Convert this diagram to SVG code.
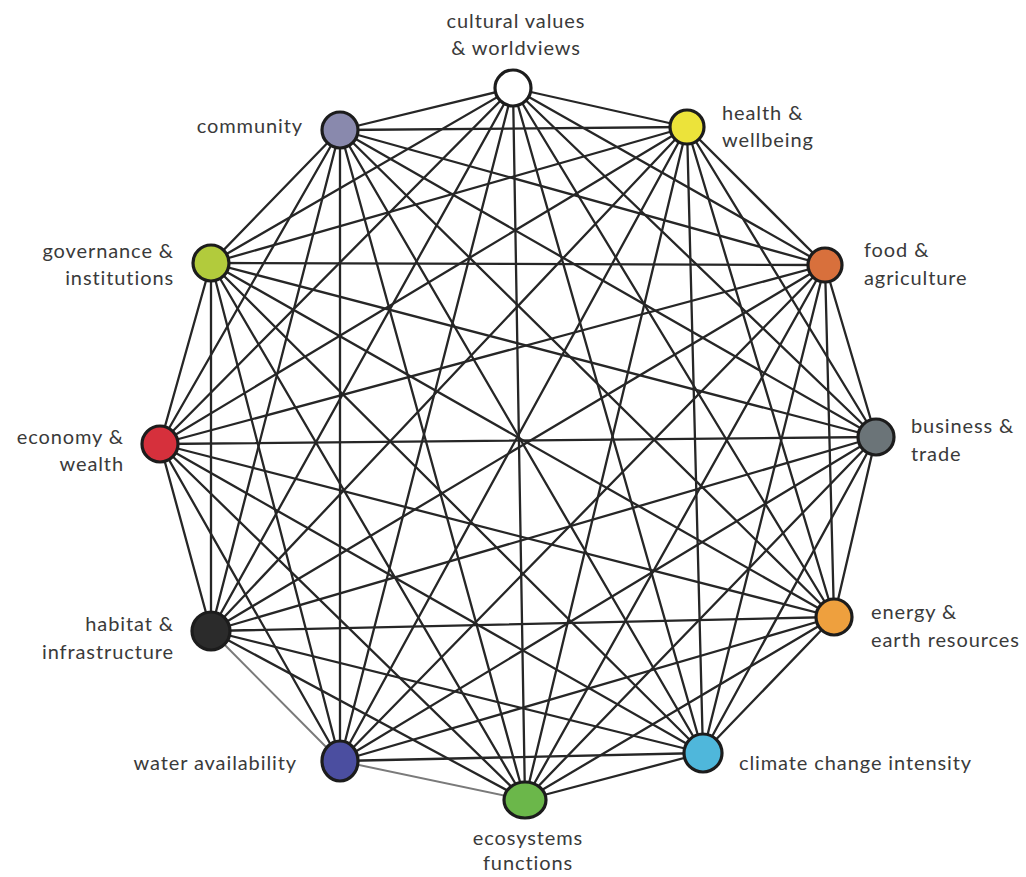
<svg xmlns="http://www.w3.org/2000/svg" width="1026" height="877" viewBox="0 0 1026 877">
  <style>
    .bg { fill: #ffffff; }
    .edge { stroke: #262626; stroke-width: 2.3; stroke-linecap: round; }
    .edge.soft { stroke: #7a7a7a; stroke-width: 2; }
    .node { stroke: #1c1c1c; stroke-width: 3.2; }
    .lbl { font-family: Lato, "Open Sans", "Liberation Sans", sans-serif; font-size: 20px; letter-spacing: 0.9px; fill: #3a3a3a; }
    .end { text-anchor: end; }
    .mid { text-anchor: middle; }
  </style>
  <rect class="bg" x="0" y="0" width="1026" height="877"/>

  <!-- every pair of nodes is connected -->
  <g id="connectors">
    <!-- cultural values -->
    <line class="edge" x1="513" y1="88" x2="687" y2="127"/>
    <line class="edge" x1="513" y1="88" x2="825" y2="265"/>
    <line class="edge" x1="513" y1="88" x2="876" y2="437"/>
    <line class="edge" x1="513" y1="88" x2="834" y2="617"/>
    <line class="edge" x1="513" y1="88" x2="703" y2="753"/>
    <line class="edge" x1="513" y1="88" x2="525" y2="800"/>
    <line class="edge" x1="513" y1="88" x2="340" y2="761"/>
    <line class="edge" x1="513" y1="88" x2="211" y2="631"/>
    <line class="edge" x1="513" y1="88" x2="160" y2="444"/>
    <line class="edge" x1="513" y1="88" x2="211" y2="263"/>
    <line class="edge" x1="513" y1="88" x2="340" y2="130"/>
    <!-- health -->
    <line class="edge" x1="687" y1="127" x2="825" y2="265"/>
    <line class="edge" x1="687" y1="127" x2="876" y2="437"/>
    <line class="edge" x1="687" y1="127" x2="834" y2="617"/>
    <line class="edge" x1="687" y1="127" x2="703" y2="753"/>
    <line class="edge" x1="687" y1="127" x2="525" y2="800"/>
    <line class="edge" x1="687" y1="127" x2="340" y2="761"/>
    <line class="edge" x1="687" y1="127" x2="211" y2="631"/>
    <line class="edge" x1="687" y1="127" x2="160" y2="444"/>
    <line class="edge" x1="687" y1="127" x2="211" y2="263"/>
    <line class="edge" x1="687" y1="127" x2="340" y2="130"/>
    <!-- food -->
    <line class="edge" x1="825" y1="265" x2="876" y2="437"/>
    <line class="edge" x1="825" y1="265" x2="834" y2="617"/>
    <line class="edge" x1="825" y1="265" x2="703" y2="753"/>
    <line class="edge" x1="825" y1="265" x2="525" y2="800"/>
    <line class="edge" x1="825" y1="265" x2="340" y2="761"/>
    <line class="edge" x1="825" y1="265" x2="211" y2="631"/>
    <line class="edge" x1="825" y1="265" x2="160" y2="444"/>
    <line class="edge" x1="825" y1="265" x2="211" y2="263"/>
    <line class="edge" x1="825" y1="265" x2="340" y2="130"/>
    <!-- business -->
    <line class="edge" x1="876" y1="437" x2="834" y2="617"/>
    <line class="edge" x1="876" y1="437" x2="703" y2="753"/>
    <line class="edge" x1="876" y1="437" x2="525" y2="800"/>
    <line class="edge" x1="876" y1="437" x2="340" y2="761"/>
    <line class="edge" x1="876" y1="437" x2="211" y2="631"/>
    <line class="edge" x1="876" y1="437" x2="160" y2="444"/>
    <line class="edge" x1="876" y1="437" x2="211" y2="263"/>
    <line class="edge" x1="876" y1="437" x2="340" y2="130"/>
    <!-- energy -->
    <line class="edge" x1="834" y1="617" x2="703" y2="753"/>
    <line class="edge" x1="834" y1="617" x2="525" y2="800"/>
    <line class="edge" x1="834" y1="617" x2="340" y2="761"/>
    <line class="edge" x1="834" y1="617" x2="211" y2="631"/>
    <line class="edge" x1="834" y1="617" x2="160" y2="444"/>
    <line class="edge" x1="834" y1="617" x2="211" y2="263"/>
    <line class="edge" x1="834" y1="617" x2="340" y2="130"/>
    <!-- climate -->
    <line class="edge" x1="703" y1="753" x2="525" y2="800"/>
    <line class="edge" x1="703" y1="753" x2="340" y2="761"/>
    <line class="edge" x1="703" y1="753" x2="211" y2="631"/>
    <line class="edge" x1="703" y1="753" x2="160" y2="444"/>
    <line class="edge" x1="703" y1="753" x2="211" y2="263"/>
    <line class="edge" x1="703" y1="753" x2="340" y2="130"/>
    <!-- ecosystems -->
    <line class="edge soft" x1="525" y1="800" x2="340" y2="761"/>
    <line class="edge" x1="525" y1="800" x2="211" y2="631"/>
    <line class="edge" x1="525" y1="800" x2="160" y2="444"/>
    <line class="edge" x1="525" y1="800" x2="211" y2="263"/>
    <line class="edge" x1="525" y1="800" x2="340" y2="130"/>
    <!-- water -->
    <line class="edge soft" x1="340" y1="761" x2="211" y2="631"/>
    <line class="edge" x1="340" y1="761" x2="160" y2="444"/>
    <line class="edge" x1="340" y1="761" x2="211" y2="263"/>
    <line class="edge" x1="340" y1="761" x2="340" y2="130"/>
    <!-- habitat -->
    <line class="edge" x1="211" y1="631" x2="160" y2="444"/>
    <line class="edge" x1="211" y1="631" x2="211" y2="263"/>
    <line class="edge" x1="211" y1="631" x2="340" y2="130"/>
    <!-- economy -->
    <line class="edge" x1="160" y1="444" x2="211" y2="263"/>
    <line class="edge" x1="160" y1="444" x2="340" y2="130"/>
    <!-- governance -->
    <line class="edge" x1="211" y1="263" x2="340" y2="130"/>
  </g>

  <g id="cultural-values">
    <circle class="node" cx="513" cy="88" r="18" fill="#ffffff"/>
    <text class="lbl mid" x="516" y="28">cultural values</text>
    <text class="lbl mid" x="516" y="55">&amp; worldviews</text>
  </g>
  <g id="health">
    <circle class="node" cx="687" cy="127" r="17" fill="#ece33a"/>
    <text class="lbl" x="722" y="120">health &amp;</text>
    <text class="lbl" x="722" y="147">wellbeing</text>
  </g>
  <g id="food">
    <circle class="node" cx="825" cy="265" r="17" fill="#d8703c"/>
    <text class="lbl" x="864" y="257">food &amp;</text>
    <text class="lbl" x="864" y="285">agriculture</text>
  </g>
  <g id="business">
    <circle class="node" cx="876" cy="437" r="18" fill="#6b7478"/>
    <text class="lbl" x="911" y="433">business &amp;</text>
    <text class="lbl" x="911" y="461">trade</text>
  </g>
  <g id="energy">
    <circle class="node" cx="834" cy="617" r="18" fill="#eea03e"/>
    <text class="lbl" x="871" y="619">energy &amp;</text>
    <text class="lbl" x="871" y="647">earth resources</text>
  </g>
  <g id="climate">
    <ellipse class="node" cx="703" cy="753" rx="19" ry="19" fill="#4fb7db"/>
    <text class="lbl" x="739" y="770">climate change intensity</text>
  </g>
  <g id="ecosystems">
    <ellipse class="node" cx="525" cy="800" rx="21" ry="18" fill="#6bb74a"/>
    <text class="lbl mid" x="528" y="845">ecosystems</text>
    <text class="lbl mid" x="528" y="870">functions</text>
  </g>
  <g id="water">
    <ellipse class="node" cx="340" cy="761" rx="18" ry="20" fill="#4b4ea0"/>
    <text class="lbl end" x="297" y="770">water availability</text>
  </g>
  <g id="habitat">
    <circle class="node" cx="211" cy="631" r="19" fill="#2b2b2b"/>
    <text class="lbl end" x="174" y="631">habitat &amp;</text>
    <text class="lbl end" x="174" y="659">infrastructure</text>
  </g>
  <g id="economy">
    <circle class="node" cx="160" cy="444" r="18" fill="#d6303c"/>
    <text class="lbl end" x="124" y="444">economy &amp;</text>
    <text class="lbl end" x="124" y="471">wealth</text>
  </g>
  <g id="governance">
    <circle class="node" cx="211" cy="263" r="18" fill="#b2cb3c"/>
    <text class="lbl end" x="174" y="258">governance &amp;</text>
    <text class="lbl end" x="174" y="285">institutions</text>
  </g>
  <g id="community">
    <circle class="node" cx="340" cy="130" r="18" fill="#8989ad"/>
    <text class="lbl end" x="303" y="133">community</text>
  </g>
</svg>
